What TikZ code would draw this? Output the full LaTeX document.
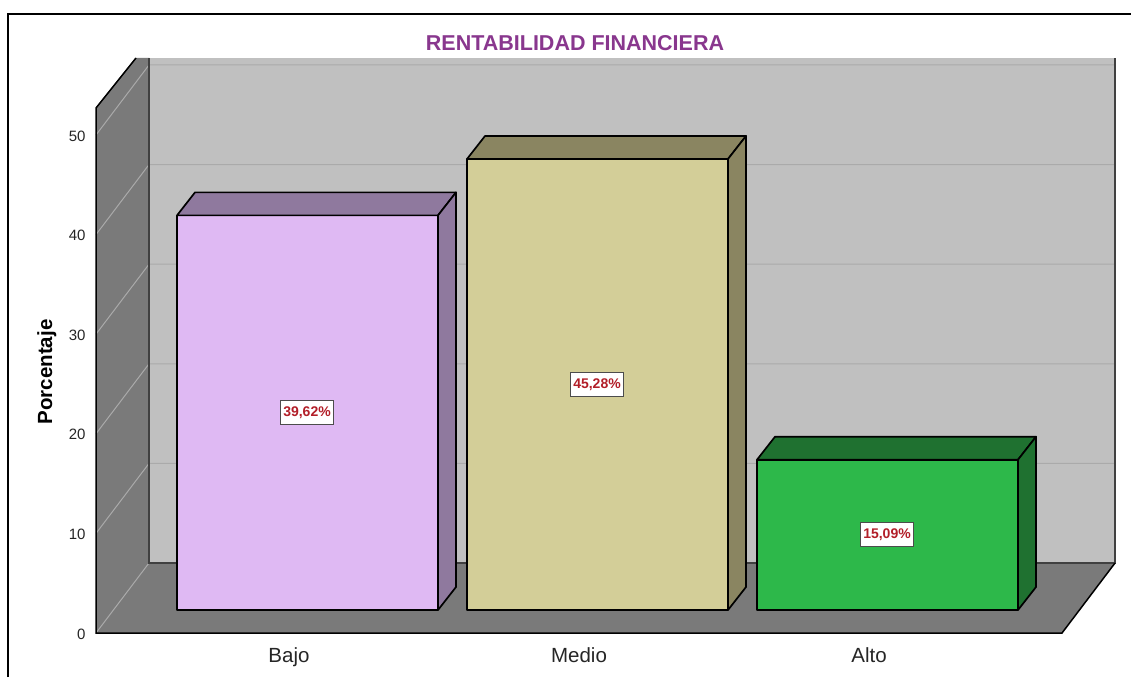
\documentclass[tikz,border=0pt]{standalone}
\usepackage{fontspec}
\setmainfont{Liberation Sans}
\usepackage{tikz}
\usetikzlibrary{positioning}

\definecolor{backwall}{RGB}{192,192,192}
\definecolor{sidewall}{RGB}{122,122,122}
\definecolor{gridgray}{RGB}{170,170,170}
\definecolor{titlepurple}{RGB}{137,55,142}
\definecolor{valred}{RGB}{178,30,40}
\definecolor{bajofront}{RGB}{223,185,243}
\definecolor{bajoshade}{RGB}{143,121,158}
\definecolor{mediofront}{RGB}{211,206,152}
\definecolor{medioshade}{RGB}{138,133,97}
\definecolor{altofront}{RGB}{45,184,74}
\definecolor{altoshade}{RGB}{31,113,48}

\begin{document}
\begin{tikzpicture}[x=1pt,y=-1pt,
  bar face/.style={draw=black,line width=1.7pt,line join=round},
  wall edge/.style={draw=black!75,line width=1.5pt},
  grid line/.style={draw=gridgray,line width=1pt},
  tick label/.style={anchor=east,font=\fontsize{15}{16}\selectfont,text=black!85},
  cat label/.style={anchor=base,font=\fontsize{20.5}{22}\selectfont,text=black!85},
  value box/.style={draw=black!70,fill=white,line width=0.9pt,inner xsep=3pt,
    inner ysep=0pt,minimum height=24pt,text=valred,font=\bfseries\fontsize{14}{15}\selectfont}]

\useasboundingbox (0,0) rectangle (1131,677);
\fill[white] (0,0) rectangle (1131,677);
\draw[line width=1.6pt] (8,677) -- (8,14) -- (1131,14);

% walls and floor
\fill[backwall] (149,58) rectangle (1115,563);
\fill[sidewall] (96,108) -- (136,58) -- (149,58) -- (149,563) -- (96,633) -- cycle;
\fill[sidewall] (96,633) -- (149,563) -- (1115,563) -- (1062,633) -- cycle;

% grid and ticks
\foreach \v in {0,10,...,50} {
  \draw[grid line] (96,633-9.96*\v) -- (149,563-9.96*\v) -- (1115,563-9.96*\v);
  \node[tick label] (tick-\v) at (89,634-9.96*\v) {\v};
}

\draw[wall edge] (149,58) -- (149,563) -- (1115,563) -- (1115,58);
\draw[draw=black,line width=1.5pt] (136,58) -- (96,108) -- (96,633) -- (1062,633) -- (1115,563);

% bars
\foreach \x/\v/\front/\shade/\lab/\txt in
  {177/39.62/bajofront/bajoshade/Bajo/{39,62\%},
   467/45.28/mediofront/medioshade/Medio/{45,28\%},
   757/15.09/altofront/altoshade/Alto/{15,09\%}} {
  \pgfmathsetmacro\bartop{610-9.96*\v}
  \filldraw[bar face,fill=\front] (\x,\bartop) rectangle (\x+261,610);
  \filldraw[bar face,fill=\shade] (\x,\bartop) -- ++(18,-23) -- ++(261,0) -- ++(-18,23) -- cycle;
  \filldraw[bar face,fill=\shade] (\x+261,\bartop) -- ++(18,-23) -- (\x+279,587) -- (\x+261,610) -- cycle;
  \node[value box] (val-\lab) at (\x+130,{(\bartop+610)/2}) {\txt};
  \node[cat label] (cat-\lab) at (\x+112,662) {\lab};
}

\node[anchor=base,text=titlepurple,font=\bfseries\fontsize{21.5}{23}\selectfont] (title) at (575,51) {RENTABILIDAD FINANCIERA};
\node[rotate=90,anchor=base,font=\bfseries\fontsize{20.5}{22}\selectfont] (ylabel) at (52,372) {Porcentaje};
\end{tikzpicture}
\end{document}
